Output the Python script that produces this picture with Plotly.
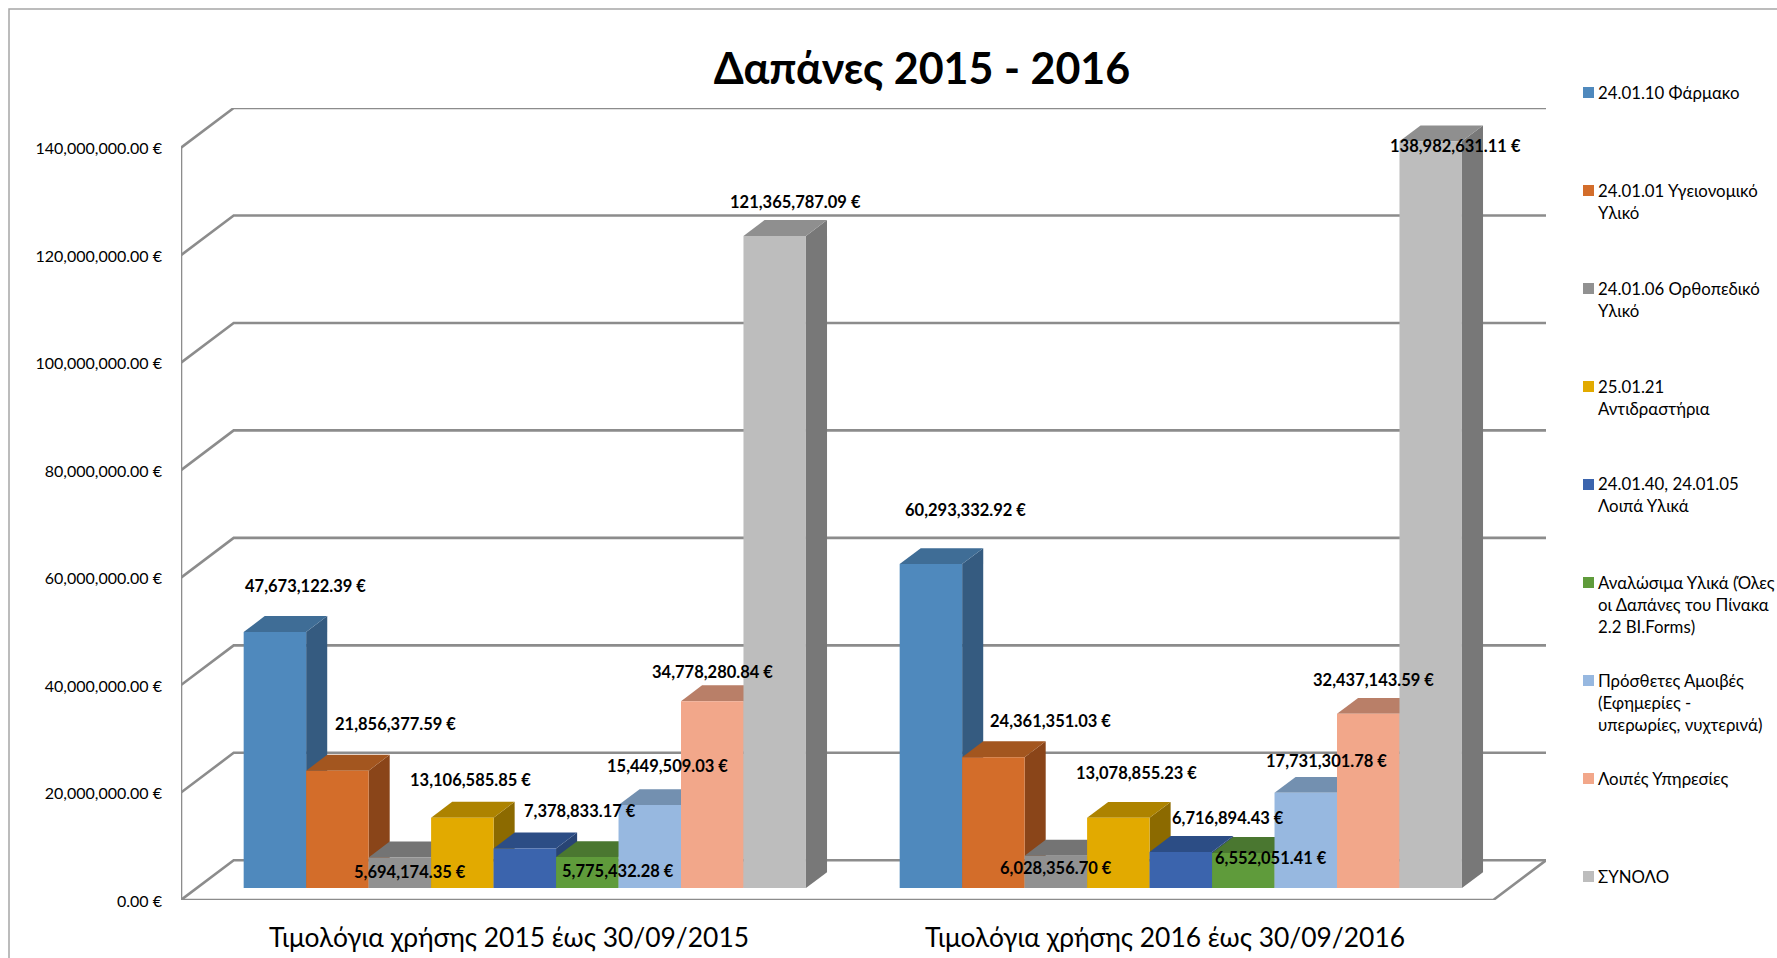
import plotly.graph_objects as go

# ---------- data ----------
CATEGORIES = ["Τιμολόγια χρήσης 2015 έως 30/09/2015", "Τιμολόγια χρήσης 2016 έως 30/09/2016"]
SERIES_NAMES = [
    "24.01.10 Φάρμακο",
    "24.01.01 Υγειονομικό<br>Υλικό",
    "24.01.06 Ορθοπεδικό<br>Υλικό",
    "25.01.21<br>Αντιδραστήρια",
    "24.01.40, 24.01.05<br>Λοιπά Υλικά",
    "Αναλώσιμα Υλικά (Όλες<br>οι Δαπάνες του Πίνακα<br>2.2 ΒΙ.Forms)",
    "Πρόσθετες Αμοιβές<br>(Εφημερίες -<br>υπερωρίες, νυχτερινά)",
    "Λοιπές Υπηρεσίες",
    "ΣΥΝΟΛΟ",
]
VALUES_2015 = [47673122.39, 21856377.59, 5694174.35, 13106585.85, 7378833.17,
               5775432.28, 15449509.03, 34778280.84, 121365787.09]
VALUES_2016 = [60293332.92, 24361351.03, 6028356.70, 13078855.23, 6716894.43,
               6552051.41, 17731301.78, 32437143.59, 138982631.11]
GROUPS = [VALUES_2015, VALUES_2016]
Y_TICKS = [0, 20e6, 40e6, 60e6, 80e6, 100e6, 120e6, 140e6]

# ---------- style ----------
FRONT = ["#4F89BD", "#D36D2A", "#919191", "#E2AA00", "#3B64AD", "#5F9B3B", "#97B8E0", "#F2A78A", "#BDBDBD"]
SIDE = ["#355B80", "#8A4519", "#606060", "#8C6A00", "#284474", "#3D6526", "#607A98", "#9C7060", "#787878"]
TOP = ["#3F6D96", "#A3561F", "#747474", "#AD8300", "#2C4D85", "#4A7730", "#7390B0", "#B97F68", "#8F8F8F"]
GRID = "#8C8C8C"
FONT = "Lato, Carlito, Calibri, 'Open Sans', sans-serif"

# label offsets from the top-centre of each bar's front face, in pixels (right, up)
LABEL_OFFSETS = [
    [(31, 46), (58, 47), (10, -15), (8, 38), (55, 37), (31, -14), (18, 39), (0, 29), (21, 34)],
    [(35, 54), (57, 36), (0, -12), (18, 45), (47, 34), (28, -5), (21, 32), (5, 34), (25, -5)],
]

# ---------- layout geometry ----------
W, H = 1777, 958
L, R, T, B = 181, 1546, 108, 900           # plot area in figure pixels
CAT_W = 656.0                              # pixels of one category on the front plane
X_MAX = (R - L) / CAT_W
DX = 52.7 / CAT_W                          # wall depth in x units
DY = 7.39e6                                # wall depth in y units
Y_MAX = 140e6 + DY
GAP = 1.5
BAR_W = 1 / (len(FRONT) + GAP)
D0, D1 = 0.30, 0.70                        # where the bars sit in the depth of the floor


def px(x):
    """figure pixel x -> paper fraction"""
    return (x - L) / (R - L)


def py(y):
    """figure pixel y -> paper fraction"""
    return 1 - (y - T) / (B - T)


def poly(xs, ys, color):
    return go.Scatter(x=xs, y=ys, mode="lines", fill="toself", fillcolor=color,
                      line=dict(width=0, color=color), showlegend=False,
                      hoverinfo="skip", cliponaxis=False)


def wire(xs, ys):
    return go.Scatter(x=xs, y=ys, mode="lines", line=dict(color=GRID, width=2.6),
                      showlegend=False, hoverinfo="skip", cliponaxis=False)


fig = go.Figure()

# walls and floor
for v in Y_TICKS:
    fig.add_trace(wire([0, DX, X_MAX], [v, v + DY, v + DY]))
fig.add_trace(wire([0, 0], [0, Y_TICKS[-1]]))
fig.add_trace(wire([0, X_MAX - DX, X_MAX], [0, 0, DY]))

# bars, painted left to right so nearer faces cover farther ones
annotations = []
for g, values in enumerate(GROUPS):
    for s, v in enumerate(values):
        x0 = g + GAP / 2 * BAR_W + s * BAR_W + D0 * DX
        x1 = x0 + BAR_W
        b0 = D0 * DY
        ddx, ddy = (D1 - D0) * DX, (D1 - D0) * DY
        top = v + b0
        fig.add_trace(poly([x1, x1 + ddx, x1 + ddx, x1, x1],
                           [b0, b0 + ddy, top + ddy, top, b0], SIDE[s]))
        fig.add_trace(poly([x0, x1, x1 + ddx, x0 + ddx, x0],
                           [top, top, top + ddy, top + ddy, top], TOP[s]))
        fig.add_trace(poly([x0, x1, x1, x0, x0], [b0, b0, top, top, b0], FRONT[s]))
        ox, oy = LABEL_OFFSETS[g][s]
        annotations.append(dict(x=(x0 + x1) / 2, y=top, xref="x", yref="y", showarrow=False,
                                xshift=ox, yshift=oy, text=f"<b>{v:,.2f} €</b>",
                                font=dict(family=FONT, size=16.5, color="#000000")))

# legend: swatch plus text, evenly spaced as in the reference
shapes = [dict(type="path", xref="paper", yref="paper", layer="below",
               path=f"M {px(9)} {py(958)} L {px(9)} {py(9)} L {px(1777)} {py(9)}",
               line=dict(color="#A6A6A6", width=1.5))]
LEG_PITCH, LEG_Y0 = 98.0, 92.5
for i, (name, color) in enumerate(zip(SERIES_NAMES, FRONT)):
    yc = LEG_Y0 + i * LEG_PITCH
    shapes.append(dict(type="rect", xref="paper", yref="paper", x0=px(1583), x1=px(1594),
                       y0=py(yc - 5.5), y1=py(yc + 5.5), fillcolor=color, line=dict(width=0)))
    annotations.append(dict(x=px(1596), y=py(yc - 13), xref="paper", yref="paper", showarrow=False,
                            xanchor="left", yanchor="top", align="left", text=name,
                            font=dict(family=FONT, size=16.8, color="#000000")))

fig.update_layout(
    width=W, height=H,
    showlegend=False,
    paper_bgcolor="white", plot_bgcolor="white",
    margin=dict(l=L, r=W - R, t=T, b=H - B, autoexpand=False),
    font=dict(family=FONT, color="#000000"),
    title=dict(text="<b>Δαπάνες 2015 - 2016</b>", x=922 / W, xanchor="center",
               y=1 - 69 / H, yanchor="middle", font=dict(family=FONT, size=43, color="#000000")),
    xaxis=dict(range=[0, X_MAX], tickmode="array", tickvals=[0.5, 1.5], ticktext=CATEGORIES, showgrid=False,
               zeroline=False, showline=False, ticks="", ticklabelstandoff=20,
               tickfont=dict(family=FONT, size=26.4)),
    yaxis=dict(range=[0, Y_MAX], tickmode="array", tickvals=Y_TICKS,
               ticktext=[f"{v:,.2f} €" for v in Y_TICKS], showgrid=False,
               zeroline=False, showline=False, ticks="", ticklabelstandoff=18, ticklabelshift=1,
               tickfont=dict(family=FONT, size=16)),
    annotations=annotations,
    shapes=shapes,
)

# the page's default body margin would otherwise push the figure 8px in
fig.write_html("out.html", config={"displayModeBar": False},
               post_script="document.body.style.margin='0';document.body.style.overflow='hidden';")
